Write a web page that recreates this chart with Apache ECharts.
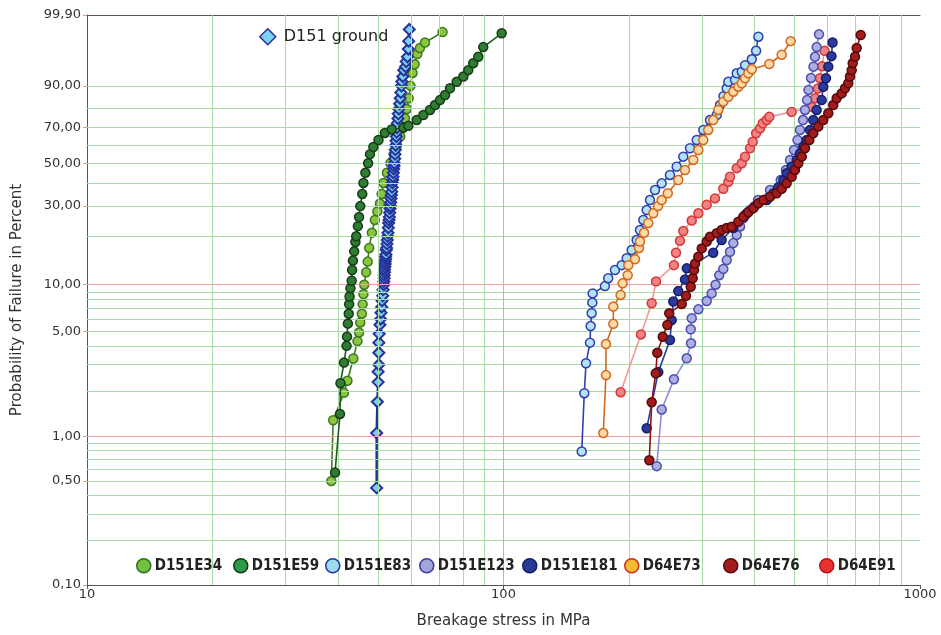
<!DOCTYPE html>
<html><head><meta charset="utf-8">
<script src="https://cdn.jsdelivr.net/npm/echarts@6.0.0/dist/echarts.min.js"></script>
<style>html,body{margin:0;padding:0;background:#fff}#c{width:941px;height:635px}</style>
</head><body><div id="c"></div>
<script>
// ---- axis ticks / grid ----
const yTickPct = [0.1, 0.5, 1, 5, 10, 30, 50, 70, 90, 99.9];
const yTickLabels = ['0,10', '0,50', '1,00', '5,00', '10,00', '30,00', '50,00', '70,00', '90,00', '99,90'];
const gridPctGreen = [0.2, 0.3, 0.4, 0.5, 0.6, 0.7, 0.8, 0.9, 2, 3, 4, 5, 6, 7, 8, 9, 20, 30, 40, 50, 60, 70, 80, 90];
const gridPctRed = [1, 10];
const gridXGreen = [20, 30, 40, 50, 60, 70, 80, 90, 200, 300, 400, 500, 600, 700, 800, 900];
const gridXRed = [100];

// ---- data: breakage stress (MPa) and failure probability (%) ----
const s_D151E34 = [38.6, 39.0, 41.4, 42.2, 43.6, 44.6, 45.0, 45.3, 45.7, 45.9, 46.1, 46.3, 46.8, 47.2, 47.6, 48.3, 49.1, 49.8, 50.5, 51.0, 51.5, 52.5, 53.5, 54.5, 55.5, 56.5, 57.3, 58.0, 58.6, 59.2, 59.8, 60.5, 61.2, 62.1, 63.0, 64.8, 71.4];
const p_D151E34 = [0.5, 1.28, 1.95, 2.35, 3.3, 4.3, 4.9, 5.7, 6.5, 7.5, 8.7, 10.0, 12, 14, 17, 21, 25, 28, 31, 35, 40, 45, 50, 55, 60, 65, 70, 75, 80, 85, 90, 94, 96, 97.7, 98.4, 98.9, 99.5];

const s_D151E59 = [39.4, 40.5, 40.6, 41.4, 42.0, 42.1, 42.3, 42.5, 42.6, 42.7, 42.9, 43.2, 43.3, 43.5, 43.8, 44.1, 44.3, 44.7, 45.0, 45.3, 45.8, 46.1, 46.6, 47.3, 47.8, 48.7, 50.1, 51.9, 53.9, 57.5, 59.1, 61.9, 64.2, 66.6, 68.5, 70.4, 72.4, 74.4, 77.2, 80.1, 82.3, 84.6, 87.0, 89.4, 99.0];
const p_D151E59 = [0.57, 1.41, 2.26, 3.1, 4.0, 4.6, 5.6, 6.5, 7.5, 8.4, 9.5, 10.6, 12.4, 14.2, 16.2, 18.5, 20, 23, 26, 30, 35, 40, 45, 50, 55, 59, 63, 67, 69, 70, 71, 74.2, 76.9, 79.5, 81.9, 84.2, 86.4, 89.1, 91.4, 93.0, 94.7, 96.2, 97.3, 98.5, 99.45];

const s_D151ground = [49.6, 49.6, 49.8, 50.0, 50.0, 50.2, 50.2, 50.2, 50.3, 50.5, 50.7, 50.8, 51.0, 51.1, 51.3, 51.4, 51.6, 51.6, 51.7, 51.7, 51.8, 51.8, 51.9, 52.0, 52.0, 52.1, 52.1, 52.2, 52.3, 52.4, 52.5, 52.6, 52.7, 52.8, 52.9, 53.0, 53.1, 53.2, 53.3, 53.4, 53.5, 53.6, 53.7, 53.8, 53.9, 54.0, 54.1, 54.2, 54.3, 54.4, 54.5, 54.6, 54.7, 54.8, 54.9, 55.0, 55.1, 55.2, 55.3, 55.4, 55.5, 55.6, 55.8, 55.9, 56.1, 56.3, 56.5, 56.7, 56.9, 57.0, 57.3, 57.6, 58.2, 58.4, 58.8, 59.1, 59.2, 59.4];
const p_D151ground = [0.45, 1.05, 1.7, 2.3, 2.7, 3.0, 3.6, 4.2, 4.8, 5.5, 6.0, 6.6, 7.2, 7.9, 8.5, 9.3, 10.0, 10.5, 11, 11.5, 12, 12.5, 13, 13.5, 14, 14.5, 15, 15.5, 16.5, 17, 18, 19, 20, 21, 22.5, 24, 25, 26, 27.5, 29, 30, 31.5, 33, 34.5, 36, 38, 40, 41.5, 43, 45, 47, 48.5, 50, 52.5, 55, 57.5, 60, 62.5, 65, 67.5, 70, 72.5, 75, 77.5, 80, 82.5, 85, 87.5, 90, 91.5, 93, 94.7, 95.5, 96.5, 97.3, 98.3, 99.0, 99.6];

const s_D151E83 = [154.1, 156.3, 157.8, 161.3, 161.9, 162.8, 163.4, 163.7, 175.2, 178.4, 185.2, 192.2, 197.6, 203.1, 208.8, 212.7, 216.6, 220.7, 224.7, 231.1, 239.8, 251.0, 260.5, 270.2, 280.4, 291.0, 301.8, 313.2, 325.0, 331.1, 337.4, 343.5, 346.6, 359.7, 363.1, 373.3, 380.2, 394.6, 404.1, 409.2];
const p_D151E83 = [0.79, 1.94, 3.07, 4.2, 5.4, 6.55, 7.67, 8.8, 9.8, 11.0, 12.4, 13.3, 14.7, 16.5, 19.0, 21.8, 25.0, 28.5, 32.4, 36.7, 39.8, 43.9, 48.2, 53.6, 58.3, 63.0, 68.7, 74.2, 76.9, 81.9, 85.9, 89.1, 91.4, 92.0, 93.9, 94.3, 95.8, 96.9, 98.1, 99.28];

const s_D151E123 = [233.3, 239.8, 256.6, 275.4, 282.0, 281.5, 283.1, 293.7, 307.5, 316.0, 323.0, 329.6, 337.1, 343.5, 349.8, 356.3, 363.1, 369.8, 376.5, 383.7, 390.7, 408.5, 436.5, 463.0, 476.7, 487.5, 498.4, 508.1, 515.1, 523.8, 529.6, 535.5, 540.0, 547.4, 555.0, 559.6, 564.8, 572.2];
const p_D151E123 = [0.63, 1.51, 2.4, 3.31, 4.16, 5.14, 6.07, 6.94, 7.85, 8.8, 10.0, 11.5, 12.6, 14.3, 16.1, 18.2, 20.4, 22.9, 25.6, 27.3, 28.5, 32.4, 36.7, 41.4, 46.4, 51.8, 57.3, 63.0, 68.7, 74.2, 79.5, 84.2, 88.5, 92.6, 95.5, 97.3, 98.5, 99.4];

const s_D151E181 = [220.7, 235.3, 251.0, 253.4, 255.7, 262.8, 272.8, 275.4, 318.8, 334.0, 356.3, 380.2, 400.2, 428.6, 444.6, 457.0, 469.7, 478.5, 491.9, 505.8, 515.1, 524.6, 534.5, 544.4, 554.3, 564.8, 580.7, 585.9, 594.7, 602.3, 613.0, 616.6];
const p_D151E181 = [1.13, 2.68, 4.37, 5.9, 7.8, 9.1, 10.8, 12.7, 15.9, 19.0, 22.4, 26.6, 29.8, 32.4, 35.3, 38.0, 41.4, 44.8, 48.2, 51.8, 55.4, 59.2, 63.0, 68.7, 74.2, 79.5, 84.2, 89.7, 92.5, 95.5, 97.4, 98.9];

const s_D64E73 = [173.6, 176.2, 176.2, 183.5, 183.5, 191.1, 193.2, 198.7, 199.4, 206.9, 211.5, 212.7, 217.5, 222.6, 228.9, 235.0, 239.8, 248.0, 262.8, 272.8, 285.6, 293.6, 301.8, 310.1, 318.8, 327.8, 337.1, 346.6, 356.3, 366.4, 373.3, 380.2, 387.1, 394.6, 434.7, 465.5, 489.3];
const p_D64E73 = [1.05, 2.56, 4.11, 5.58, 7.23, 8.6, 10.2, 11.5, 13.3, 14.5, 17.0, 18.6, 21.0, 24.0, 27.3, 30.0, 32.4, 35.3, 41.4, 46.4, 51.8, 57.3, 63.0, 68.7, 74.2, 79.5, 83.5, 85.7, 87.8, 89.7, 90.9, 92.5, 93.9, 94.9, 96.05, 97.6, 99.0];

const s_D64E76 = [223.9, 226.9, 232.0, 234.0, 241.2, 247.4, 250.0, 267.9, 274.3, 281.5, 284.6, 286.7, 288.3, 293.6, 299.2, 307.5, 313.2, 325.0, 334.0, 343.5, 353.1, 366.3, 376.5, 387.1, 397.9, 409.2, 420.6, 436.5, 452.8, 465.5, 478.5, 491.9, 501.0, 510.3, 520.0, 529.6, 542.3, 554.3, 569.9, 585.9, 602.3, 619.1, 630.9, 648.5, 660.5, 672.7, 679.1, 685.5, 689.3, 698.1, 704.7, 720.4];
const p_D64E76 = [0.69, 1.69, 2.63, 3.60, 4.59, 5.49, 6.54, 7.51, 8.5, 9.7, 11.0, 12.4, 13.6, 15.0, 16.9, 18.6, 19.9, 20.9, 21.8, 22.4, 22.8, 24.4, 26.1, 27.7, 29.2, 31.1, 32.4, 33.8, 35.3, 37.3, 39.8, 43.0, 46.4, 50.0, 53.6, 58.3, 63.0, 66.8, 70.6, 74.2, 77.8, 81.9, 85.0, 87.1, 89.1, 90.9, 93.0, 94.7, 96.2, 97.3, 98.4, 99.37];

const s_D64E91 = [191.1, 213.8, 226.9, 232.4, 256.6, 259.5, 265.3, 270.2, 283.1, 293.7, 307.5, 321.9, 337.1, 346.6, 349.8, 363.1, 373.3, 380.2, 390.7, 396.6, 404.1, 413.0, 419.3, 428.6, 434.7, 491.9, 549.5, 560.0, 569.0, 575.3, 581.8, 589.8];
const p_D64E91 = [1.97, 4.76, 7.6, 10.5, 13.3, 15.9, 18.8, 21.5, 24.8, 27.3, 30.5, 33.1, 37.3, 40.5, 43.0, 47.4, 50.0, 53.6, 58.3, 62.0, 66.8, 69.6, 72.4, 74.2, 75.9, 78.5, 81.0, 85.0, 89.0, 92.5, 95.6, 98.1];

// ---- Weibull probability scale ----
function W(pct) { return Math.log(-Math.log(1 - pct / 100)); }
function pairs(s, p) { return s.map((v, i) => [v, W(p[i])]); }

const FONT = "'DejaVu Sans', Verdana, sans-serif";
const LFONT = "'DejaVu Sans Condensed', 'DejaVu Sans', sans-serif";

const styles = {
  'D151E34':  {fill: '#8cc63f', border: '#3f7a22', line: '#3f7a22', sym: 'circle', size: 9, bw: 1.5, lw: 1.6, lfill: '#72bf44', lborder: '#2f6e1e'},
  'D151 ground': {fill: '#7dd0ee', border: '#25329a', line: '#25329a', sym: 'diamond', size: 11, bw: 2, lw: 2.5},
  'D151E59':  {fill: '#2f7d33', border: '#173d17', line: '#1f5a1f', sym: 'circle', size: 9, bw: 1.5, lw: 1.6, lfill: '#2c9a48', lborder: '#123d12'},
  'D151E83':  {fill: '#b3e3f3', border: '#2f3fae', line: '#2f3fae', sym: 'circle', size: 9, bw: 1.5, lw: 1.6, lfill: '#9ed9ec', lborder: '#2636a4'},
  'D64E73':   {fill: '#fcd9a6', border: '#d2681e', line: '#d2681e', sym: 'circle', size: 9, bw: 1.5, lw: 1.6, lfill: '#f6b932', lborder: '#c8301e'},
  'D64E91':   {fill: '#f08484', border: '#d43a3a', line: '#f29a9a', sym: 'circle', size: 9, bw: 1.5, lw: 1.6, lfill: '#e83030', lborder: '#b01818'},
  'D151E123': {fill: '#adaee2', border: '#4c4fae', line: '#8c8fda', sym: 'circle', size: 9, bw: 1.5, lw: 1.6, lfill: '#a4a4dc', lborder: '#3c3ca0'},
  'D151E181': {fill: '#2b3a9c', border: '#161f6a', line: '#2b3a9c', sym: 'circle', size: 9, bw: 1.5, lw: 1.6, lfill: '#2b3894', lborder: '#141e66'},
  'D64E76':   {fill: '#a11c1c', border: '#560a0a', line: '#8a1212', sym: 'circle', size: 9, bw: 1.5, lw: 1.6, lfill: '#a11c1c', lborder: '#5a0a0a'}
};
const seriesData = {
  'D151E34': pairs(s_D151E34, p_D151E34),
  'D151 ground': pairs(s_D151ground, p_D151ground),
  'D151E59': pairs(s_D151E59, p_D151E59),
  'D151E83': pairs(s_D151E83, p_D151E83),
  'D64E73': pairs(s_D64E73, p_D64E73),
  'D64E91': pairs(s_D64E91, p_D64E91),
  'D151E123': pairs(s_D151E123, p_D151E123),
  'D151E181': pairs(s_D151E181, p_D151E181),
  'D64E76': pairs(s_D64E76, p_D64E76)
};
const drawOrder = ['D151E34', 'D151 ground', 'D151E59', 'D151E83', 'D64E73', 'D64E91', 'D151E123', 'D151E181', 'D64E76'];

const GREEN = '#a9dca9', RED = '#e9a3a3';
const gridLines = [];
gridXGreen.forEach(v => gridLines.push({xAxis: v, lineStyle: {color: GREEN, width: 1, type: 'solid'}}));
gridPctGreen.forEach(p => gridLines.push({yAxis: W(p), lineStyle: {color: GREEN, width: 1, type: 'solid'}}));
gridXRed.forEach(v => gridLines.push({xAxis: v, lineStyle: {color: RED, width: 1, type: 'solid'}}));
gridPctRed.forEach(p => gridLines.push({yAxis: W(p), lineStyle: {color: RED, width: 1, type: 'solid'}}));

const series = [{
  type: 'line', name: '__grid', data: [], silent: true, z: 1,
  markLine: {silent: true, symbol: ['none', 'none'], label: {show: false}, animation: false, data: gridLines}
}];
drawOrder.forEach((n, i) => {
  const st = styles[n];
  series.push({
    type: 'line', name: n, data: seriesData[n], z: 3 + i,
    symbol: st.sym, symbolSize: st.size, showSymbol: true, showAllSymbol: true,
    lineStyle: {color: st.line, width: st.lw},
    itemStyle: {color: st.fill, borderColor: st.border, borderWidth: st.bw},
    emphasis: {disabled: true}
  });
});

const legendPos = [['D151E34', 136], ['D151E59', 233], ['D151E83', 325], ['D151E123', 419], ['D151E181', 522], ['D64E73', 624], ['D64E76', 723], ['D64E91', 819]];
const legends = legendPos.map(([n, left]) => ({
  left: left, top: 558, padding: 0, itemWidth: 14, itemHeight: 14, selectedMode: false, z: 6,
  data: [{name: n, icon: 'circle', itemStyle: {color: styles[n].lfill, borderColor: styles[n].lborder, borderWidth: 1.5}}],
  textStyle: {fontFamily: LFONT, fontWeight: 'bold', fontSize: 15, color: '#222', padding: [0, 0, 0, -1]}
}));
legends.push({
  left: 259, top: 28, padding: 0, itemWidth: 16, itemHeight: 16, selectedMode: false, z: 6,
  data: [{name: 'D151 ground', icon: 'diamond', itemStyle: {color: '#7dd0ee', borderColor: '#28349a', borderWidth: 1.5}}],
  textStyle: {fontFamily: FONT, fontSize: 16, color: '#222', padding: [0, 0, 0, 3]}
});

function labelFor(v) {
  let best = 0, bd = Infinity;
  yTickPct.forEach((p, i) => { const d = Math.abs(W(p) - v); if (d < bd) { bd = d; best = i; } });
  return yTickLabels[best];
}
const yTickVals = yTickPct.map(W);

const chart = echarts.init(document.getElementById('c'), null, {renderer: 'canvas'});
chart.setOption({
  animation: false,
  backgroundColor: '#fff',
  grid: {left: 87, right: 21, top: 15, bottom: 50, containLabel: false},
  graphic: [{type: 'rect', z: 5, shape: {x: 128, y: 552, width: 775, height: 29}, style: {fill: 'rgba(255,255,255,0.85)'}}],
  legend: legends,
  xAxis: [{
    type: 'log', logBase: 10, min: 10, max: 1000,
    name: 'Breakage stress in MPa', nameLocation: 'middle', nameGap: 29,
    nameTextStyle: {fontFamily: FONT, fontSize: 15, color: '#333'},
    axisLine: {show: true, onZero: false, lineStyle: {color: '#555', width: 1}},
    axisTick: {show: true, length: 4, lineStyle: {color: '#555'}},
    axisLabel: {fontFamily: FONT, fontSize: 13, color: '#333', margin: 3, formatter: v => String(Math.round(v))},
    splitLine: {show: false}, minorTick: {show: false}, minorSplitLine: {show: false}
  }, {
    type: 'log', logBase: 10, min: 10, max: 1000, position: 'top',
    axisLine: {show: true, onZero: false, lineStyle: {color: '#555', width: 1}},
    axisTick: {show: false}, axisLabel: {show: false}, splitLine: {show: false}
  }],
  yAxis: {
    type: 'value', min: W(0.1), max: W(99.9),
    name: 'Probability of Failure in Percent', nameLocation: 'middle', nameGap: 62,
    nameTextStyle: {fontFamily: FONT, fontSize: 15, color: '#333'},
    axisLine: {show: true, onZero: false, lineStyle: {color: '#555', width: 1}},
    axisTick: {show: true, length: 4, customValues: yTickVals, lineStyle: {color: '#d89a9a'}},
    axisLabel: {fontFamily: FONT, fontSize: 13, color: '#333', margin: 6, customValues: yTickVals, formatter: v => labelFor(v)},
    splitLine: {show: false}
  },
  series: series
});
</script></body></html>
